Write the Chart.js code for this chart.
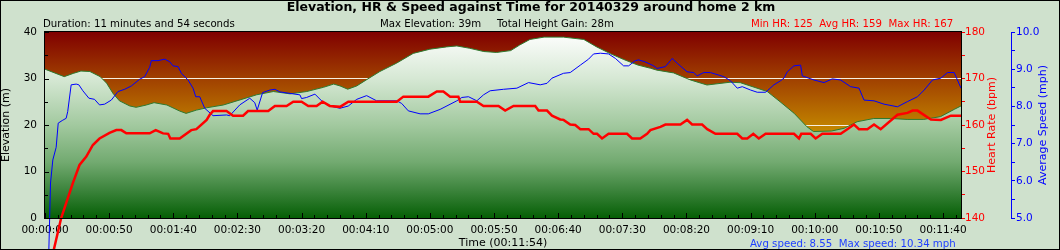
<!DOCTYPE html>
<html>
<head>
<meta charset="utf-8">
<script src="https://cdn.jsdelivr.net/npm/chart.js@4.4.0/dist/chart.umd.min.js"></script>
<style>
  body { margin: 0; background: #cfe1cd; }
  canvas { display: block; }
</style>
</head>
<body>
<canvas id="hrChart" width="1060" height="250"></canvas>
<script>
// elevation (m) by elapsed seconds
let elevTime = [0,15,22,28,35,43,48,53,58,66,71,79,85,95,105,110,118,126,139,152,165,178,191,204,217,225,230,236,243,251,261,274,287,300,313,321,331,342,352,363,370,378,389,404,420,430,441,451,462,472,477,490,503,516,534,542,563,573,584,594,599,613,623,633,646,659,672,685,698,709,714];
let elevM = [32.0,30.4,31.1,31.6,31.5,30.4,29.0,26.8,25.2,24.1,23.8,24.3,24.8,24.3,23.0,22.5,23.2,23.7,24.3,25.4,26.5,27.2,26.7,27.2,28.1,28.8,28.4,27.7,28.4,29.8,31.5,33.3,35.4,36.3,36.8,37.0,36.5,35.8,35.6,36.0,37.2,38.4,38.9,38.9,38.4,36.8,35.3,34.1,32.9,32.2,31.8,31.2,29.7,28.6,29.2,29.1,27.2,25.0,22.5,19.6,18.6,18.7,19.3,20.7,21.4,21.4,21.2,21.2,21.8,23.4,24.1];

// heart rate (bpm)
let hrTime = [0,12.6,16.5,21.7,26.9,32.2,37.3,42.5,50.3,55.6,59.5,63.4,81.6,86.3,92,96,97.7,105,114,118,126,128.4,131,141.5,146.6,154.4,158.3,174,179.2,188.3,193.5,200,205.2,211.7,216.4,222,230,236.4,274.2,279.3,298.8,305.4,310.5,315.8,322.2,323.6,336.6,341.8,353.5,358.7,365.2,382.1,384.7,391.3,395.2,401.6,404.2,409.4,413.3,417.3,423.7,427.6,430.3,434.2,439.3,453.7,457.6,464,469.3,471.9,479.7,483.6,495.3,500.5,504.4,512.2,516.2,522.6,539.6,543.5,547.4,552.1,556.4,561.7,583.8,587.7,589.5,596.8,600.7,605.9,620.2,625.4,630.6,634.5,641,646.2,651.4,664.5,672.3,676.2,680.1,690.5,698.3,706.1,714];
let hrBpm = [125,140,143.2,147.5,151.4,153.2,155.7,157.1,158.3,158.9,158.9,158.2,158.2,158.9,158.2,158.1,157.1,157.1,158.9,159.1,161.1,162.2,163,163,162,162,163,163,164.1,164.1,165,165,164.1,164.1,165,164.1,163.9,165,165,166.1,166.1,167.2,167.2,166.1,166.1,165,165,164.1,164.1,163.1,164.1,164.1,163.1,163.1,162,161.2,161.1,160.1,160,159.1,159.1,158.1,158.1,157.1,158.1,158.1,157.1,157.1,158.1,158.9,159.6,160.1,160.1,161.1,160.1,160.1,159.1,158.1,158.1,157.1,157.1,158.1,157.1,158.1,158.1,157.1,158.1,158.1,157.1,158.1,158.1,159.1,160.1,159.1,159.1,160.1,159.1,162.2,162.6,163.1,163.1,161.2,161.1,162,162];

// average speed (mph)
let spdTime = [0,4.3,6.1,8.7,10.3,13.4,16.5,17.7,20.4,24.3,26.4,29.5,34.2,38.6,42.5,46.5,51.7,56.9,62.1,67.3,73.8,77.7,81.6,82.9,88.1,93.3,97.2,99.8,103.7,106.3,111.5,115.4,117.5,120.6,124.5,131,141.5,144,151.8,159.6,163.5,165.4,169.6,175.3,179.2,183.1,198.7,200,203.9,210.4,215.6,222.1,229.9,236.4,243,250.7,258.5,274.2,278,283.2,292.4,298.8,308,321,324.9,330.1,336.6,341.8,347,357.4,367.8,376.9,386,391.3,395.2,404.2,409.4,417.3,423.7,427.6,432.9,439.3,444.6,451,454.9,460.1,462.7,467.6,474.5,477.1,483.6,488.9,492.8,500.5,505.7,508.3,513.5,518.7,529.1,534.3,539.6,543.5,550,555.2,561.7,568.2,573.4,576,578.6,583.8,589,590.3,599.4,607.2,613.7,620.2,628,634.5,638.4,646.2,654,664.5,672.3,680.1,685.3,691.8,698.3,703.5,708.7,714];
let spdMph = [0,5.94,6.56,6.9,7.55,7.62,7.68,7.86,8.58,8.6,8.58,8.42,8.22,8.19,8.04,8.06,8.17,8.4,8.46,8.55,8.73,8.8,9.05,9.23,9.23,9.27,9.2,9.09,9.07,8.89,8.71,8.49,8.26,8.26,7.95,7.75,7.77,7.75,8.04,8.22,8.1,7.9,8.37,8.44,8.46,8.39,8.31,8.21,8.24,8.33,8.15,8.01,7.95,8.01,8.19,8.29,8.15,8.15,8.08,7.88,7.8,7.8,7.92,8.15,8.24,8.26,8.15,8.31,8.42,8.46,8.49,8.64,8.58,8.62,8.76,8.89,8.91,9.11,9.27,9.41,9.43,9.41,9.29,9.09,9.09,9.23,9.25,9.2,9.09,9.02,9.07,9.29,9.16,8.93,8.91,8.82,8.91,8.91,8.8,8.69,8.49,8.53,8.44,8.38,8.38,8.58,8.69,8.76,8.93,9.09,9.11,8.82,8.71,8.64,8.74,8.71,8.53,8.49,8.17,8.15,8.06,7.99,8.13,8.26,8.44,8.71,8.76,8.91,8.91,8.49];

let titleText = 'Elevation, HR & Speed against Time for 20140329 around home 2 km';
let durationText = 'Duration: 11 minutes and 54 seconds';
let maxElevText = 'Max Elevation: 39m';
let gainText = 'Total Height Gain: 28m';
let hrStatsText = 'Min HR: 125  Avg HR: 159  Max HR: 167';
let spdStatsText = 'Avg speed: 8.55  Max speed: 10.34 mph';
let totalSeconds = 714;

Chart.defaults.font.family = 'DejaVu Sans';
Chart.defaults.font.size = 10.5;
Chart.defaults.color = '#000';

function pts(xs, ys) { return xs.map((t, i) => ({x: t, y: ys[i]})); }
function hms(s) {
  let h = Math.floor(s / 3600), m = Math.floor(s % 3600 / 60), sec = Math.round(s % 60);
  return [h, m, sec].map(v => String(v).padStart(2, '0')).join(':');
}

function elevFill(ctx) {
  let a = ctx.chart.chartArea;
  if (!a) return '#80b080';
  let g = ctx.chart.ctx.createLinearGradient(0, a.top, 0, a.bottom);
  g.addColorStop(0, '#ffffff');
  g.addColorStop(0.25, '#d6e8d4');
  g.addColorStop(0.5, '#a2c99f');
  g.addColorStop(0.7, '#72aa70');
  g.addColorStop(0.85, '#3c843c');
  g.addColorStop(1, '#055f05');
  return g;
}

let frame = {
  id: 'frame',
  beforeDraw(chart) {
    let c = chart.ctx, a = chart.chartArea;
    c.save();
    c.fillStyle = '#cfe1cd';
    c.fillRect(0, 0, chart.width, chart.height);
    let g = c.createLinearGradient(0, a.top, 0, a.bottom);
    g.addColorStop(0, '#800000');
    g.addColorStop(1, '#ffff00');
    c.fillStyle = g;
    c.fillRect(a.left, a.top, a.right - a.left, a.bottom - a.top);
    c.restore();
  },
  afterDraw(chart) {
    let c = chart.ctx, a = chart.chartArea;
    let ys = chart.scales.yEl, xs = chart.scales.x;
    c.save();
    c.strokeStyle = '#000';
    c.lineWidth = 1;
    c.strokeRect(Math.round(a.left) - 0.5, Math.round(a.top) - 0.5, Math.round(a.right - a.left) + 1, Math.round(a.bottom - a.top) + 1);
    // inward tick marks
    c.beginPath();
    ys.ticks.forEach(t => {
      let y = Math.round(ys.getPixelForValue(t.value)) + 0.5;
      c.moveTo(a.left, y); c.lineTo(a.left + (t.value % 10 === 0 ? 4 : 3), y);
    });
    xs.ticks.forEach(t => {
      let x = Math.round(xs.getPixelForValue(t.value)) + 0.5;
      c.moveTo(x, a.bottom); c.lineTo(x, a.bottom - (t.value % 50 === 0 ? 5 : 3));
    });
    c.stroke();
    // outer border
    c.strokeRect(0.5, 0.5, chart.width - 1, chart.height - 1);
    // header texts
    c.fillStyle = '#000';
    c.textBaseline = 'middle';
    c.textAlign = 'center';
    c.font = 'bold 12.5px "DejaVu Sans"';
    c.fillText(titleText, 531, 8);
    c.textAlign = 'left';
    c.font = '10.2px "DejaVu Sans"';
    c.fillText(durationText, 43, 24);
    c.fillText(maxElevText, 380, 24);
    c.fillText(gainText, 497, 24);
    c.fillStyle = '#ff0000';
    c.fillText(hrStatsText, 751, 24);
    c.fillStyle = '#1f3fff';
    c.fillText(spdStatsText, 750, 244);
    // right axis titles, reading upwards
    let mid = (a.top + a.bottom) / 2;
    c.font = '11px "DejaVu Sans"';
    c.textAlign = 'center';
    c.translate(992, mid); c.rotate(-Math.PI / 2);
    c.fillStyle = '#ff0000';
    c.fillText('Heart Rate (bpm)', 0, 0);
    c.rotate(Math.PI / 2); c.translate(1043 - 992, 0); c.rotate(-Math.PI / 2);
    c.fillStyle = '#0000ff';
    c.fillText('Average Speed (mph)', 0, 0);
    c.restore();
  }
};

new Chart(document.getElementById('hrChart'), {
  type: 'line',
  data: {
    datasets: [
      {
        label: 'Heart Rate',
        data: pts(hrTime, hrBpm),
        yAxisID: 'yHr',
        borderColor: '#ff0000',
        borderWidth: 2.5,
        pointRadius: 0,
        fill: false,
        clip: false,
        order: 1
      },
      {
        label: 'Average Speed',
        data: pts(spdTime, spdMph),
        yAxisID: 'ySpd',
        borderColor: '#0000ff',
        borderWidth: 1,
        pointRadius: 0,
        fill: false,
        clip: false,
        order: 2
      },
      {
        label: 'Elevation',
        data: pts(elevTime, elevM),
        yAxisID: 'yEl',
        borderColor: '#2f7a2f',
        borderWidth: 1,
        backgroundColor: elevFill,
        pointRadius: 0,
        fill: 'origin',
        order: 3
      }
    ]
  },
  options: {
    responsive: false,
    animation: false,
    layout: { padding: { top: 32 } },
    plugins: { legend: { display: false }, tooltip: { enabled: false } },
    scales: {
      x: {
        type: 'linear',
        min: 0,
        max: totalSeconds,
        grid: { display: false },
        border: { display: false },
        ticks: {
          stepSize: 10,
          autoSkip: false,
          maxRotation: 0,
          minRotation: 0,
          includeBounds: false,
          padding: -2,
          callback: v => v % 50 === 0 ? hms(v) : ''
        },
        title: { display: true, text: 'Time (' + hms(totalSeconds) + ')', font: { size: 11 }, padding: 0 },
        afterFit: s => { s.height = 32; }
      },
      yEl: {
        position: 'left',
        min: 0,
        max: 40,
        grid: {
          drawTicks: false,
          color: ctx => (ctx.tick && ctx.tick.value % 10 === 0 && ctx.tick.value > 0 && ctx.tick.value < 40) ? '#f6efe0' : 'rgba(0,0,0,0)'
        },
        border: { display: false },
        ticks: { stepSize: 5, padding: 8, callback: v => v % 10 === 0 ? v : '' },
        title: { display: true, text: 'Elevation (m)', font: { size: 11 }, padding: 0 },
        afterFit: s => { s.width = 45; }
      },
      yHr: {
        position: 'right',
        min: 140,
        max: 180,
        grid: { drawOnChartArea: false, color: '#ff0000', tickLength: 4 },
        border: { display: true, color: '#000' },
        ticks: { stepSize: 5, padding: 0, color: '#ff0000', callback: v => v % 10 === 0 ? v : '' },
        afterFit: s => { s.width = 50; }
      },
      ySpd: {
        position: 'right',
        min: 5,
        max: 10,
        grid: { drawOnChartArea: false, color: '#0000ff', tickLength: 4 },
        border: { display: true, color: '#0000ff' },
        ticks: { stepSize: 0.5, padding: 1, color: '#0000ff', callback: v => Math.abs(v - Math.round(v)) < 0.01 ? v.toFixed(1) : '' },
        afterFit: s => { s.width = 49; }
      }
    }
  },
  plugins: [frame]
});
</script>
</body>
</html>
